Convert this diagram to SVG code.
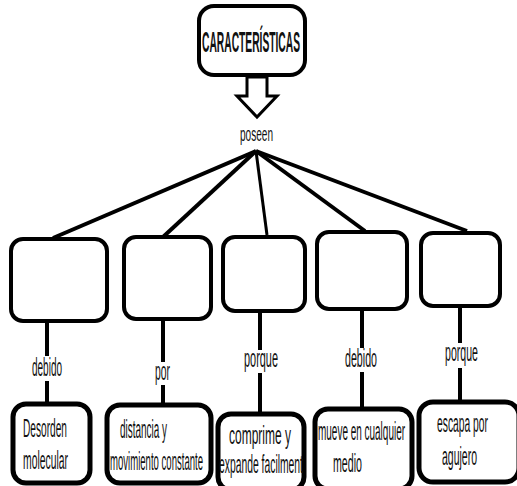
<svg xmlns="http://www.w3.org/2000/svg" width="517" height="486" viewBox="0 0 517 486">
  <style>
    .box { fill: #fff; stroke: #000; stroke-width: 4; }
    .leaf { fill: #fff; stroke: #000; stroke-width: 5; }
    .wire { stroke: #000; stroke-width: 4; fill: none; stroke-linecap: butt; }
    .thin { stroke-width: 3; }
    text { font-family: "Liberation Sans", Arial, sans-serif; fill: #111; font-size: 26px; }
    .title { font-weight: bold; font-size: 30px; }
    .small { font-size: 21px; }
  </style>
  <rect width="517" height="486" fill="#fff"/>

  <!-- connectors; labels are narrow text squeezed to half width -->
  <g id="connectors">
    <line class="wire" x1="256" y1="151" x2="53" y2="238"/>
    <line class="wire" x1="256" y1="151" x2="163" y2="237"/>
    <line class="wire thin" x1="256" y1="151" x2="267" y2="235"/>
    <line class="wire" x1="256" y1="151" x2="365" y2="231"/>
    <line class="wire" x1="256" y1="151" x2="467" y2="231"/>

    <line class="wire" x1="47" y1="321" x2="47" y2="356"/>
    <line class="wire" x1="47" y1="381" x2="47" y2="403"/>
    <line class="wire" x1="163" y1="319" x2="163" y2="362"/>
    <line class="wire" x1="163" y1="385" x2="163" y2="404"/>
    <line class="wire" x1="260" y1="311" x2="260" y2="350"/>
    <line class="wire" x1="260" y1="373" x2="260" y2="413"/>
    <line class="wire" x1="362" y1="309" x2="362" y2="348"/>
    <line class="wire" x1="362" y1="372" x2="362" y2="408"/>
    <line class="wire" x1="460" y1="306" x2="460" y2="343"/>
    <line class="wire" x1="460" y1="368" x2="460" y2="401"/>

    <text transform="translate(32,376) scale(.5,1)" textLength="60" lengthAdjust="spacingAndGlyphs">debido</text>
    <text transform="translate(155,380) scale(.5,1)" textLength="30" lengthAdjust="spacingAndGlyphs">por</text>
    <text transform="translate(244,367) scale(.5,1)" textLength="68" lengthAdjust="spacingAndGlyphs">porque</text>
    <text transform="translate(345,367) scale(.5,1)" textLength="64" lengthAdjust="spacingAndGlyphs">debido</text>
    <text transform="translate(445,361) scale(.5,1)" textLength="66" lengthAdjust="spacingAndGlyphs">porque</text>
  </g>

  <!-- root concept -->
  <g id="root">
    <rect class="box" x="199" y="6" width="106" height="69" rx="15"/>
    <text class="title" transform="translate(202,52) scale(.5,1)" textLength="196" lengthAdjust="spacingAndGlyphs">CARACTERÍSTICAS</text>
  </g>

  <!-- hollow down arrow -->
  <g id="arrow">
    <polygon points="247,77 267,77 267,96 277,96 257,117 237,96 247,96" fill="#fff" stroke="#000" stroke-width="3" stroke-linejoin="miter"/>
  </g>

  <g id="poseen">
    <text class="small" transform="translate(240,141) scale(.5,1)" textLength="66" lengthAdjust="spacingAndGlyphs">poseen</text>
  </g>

  <!-- middle row (empty boxes) -->
  <g id="mid1"><rect class="box" x="11" y="239" width="96" height="82" rx="12"/></g>
  <g id="mid2"><rect class="box" x="124" y="237" width="87" height="82" rx="12"/></g>
  <g id="mid3"><rect class="box" x="223" y="237" width="82" height="74" rx="12"/></g>
  <g id="mid4"><rect class="box" x="317" y="232" width="90" height="77" rx="12"/></g>
  <g id="mid5"><rect class="box" x="421" y="233" width="79" height="73" rx="12"/></g>

  <!-- bottom row -->
  <g id="leaf1">
    <rect class="leaf" x="13" y="404" width="77" height="79" rx="13"/>
    <text transform="translate(23,437) scale(.5,1)" textLength="88" lengthAdjust="spacingAndGlyphs">Desorden</text>
    <text transform="translate(23,469) scale(.5,1)" textLength="90" lengthAdjust="spacingAndGlyphs">molecular</text>
  </g>
  <g id="leaf2">
    <rect class="leaf" x="107" y="405" width="104" height="78" rx="13"/>
    <text transform="translate(120,438) scale(.5,1)" textLength="94" lengthAdjust="spacingAndGlyphs">distancia y</text>
    <text transform="translate(110,470) scale(.5,1)" textLength="186" lengthAdjust="spacingAndGlyphs">movimiento constante</text>
  </g>
  <g id="leaf3">
    <rect class="leaf" x="218" y="414" width="86" height="76" rx="13"/>
    <text transform="translate(229,444) scale(.5,1)" textLength="124" lengthAdjust="spacingAndGlyphs">comprime   y</text>
    <text transform="translate(219,473) scale(.5,1)" textLength="168" lengthAdjust="spacingAndGlyphs">expande facilment</text>
  </g>
  <g id="leaf4">
    <rect class="leaf" x="315" y="409" width="97" height="80" rx="13"/>
    <text transform="translate(318,440) scale(.5,1)" textLength="174" lengthAdjust="spacingAndGlyphs">mueve en cualquier</text>
    <text transform="translate(333,472) scale(.5,1)" textLength="58" lengthAdjust="spacingAndGlyphs">medio</text>
  </g>
  <g id="leaf5">
    <rect class="leaf" x="419" y="402" width="100" height="80" rx="14"/>
    <text transform="translate(437,432) scale(.5,1)" textLength="102" lengthAdjust="spacingAndGlyphs">escapa por</text>
    <text transform="translate(442,465) scale(.5,1)" textLength="70" lengthAdjust="spacingAndGlyphs">agujero</text>
  </g>
</svg>
